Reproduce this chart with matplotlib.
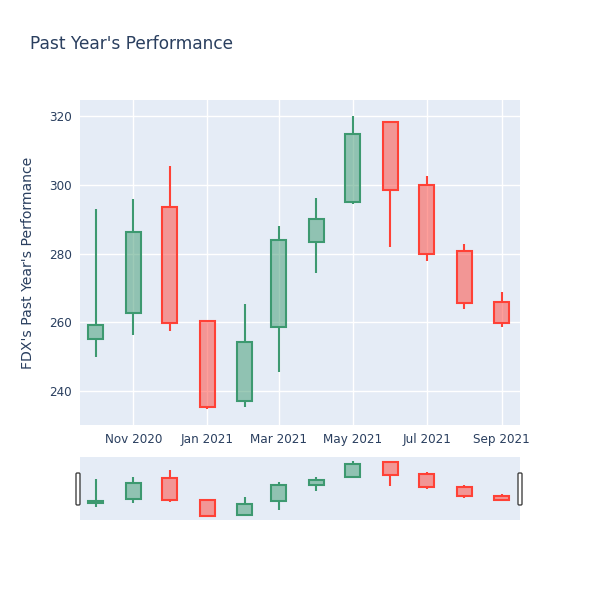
import matplotlib
matplotlib.use("Agg")
import matplotlib.pyplot as plt
import matplotlib.dates as mdates
from matplotlib.colors import to_rgba
from matplotlib.patches import FancyBboxPatch
import datetime as dt

# monthly OHLC values
dates = ["2020-10-01", "2020-11-01", "2020-12-01", "2021-01-01",
         "2021-02-01", "2021-03-01", "2021-04-01", "2021-05-01",
         "2021-06-01", "2021-07-01", "2021-08-01", "2021-09-01"]
opens = [255.1, 262.6, 293.6, 260.4, 237.2, 258.5, 283.4, 294.9,
         318.3, 299.9, 280.7, 266.0]
highs = [293.1, 295.9, 305.5, 260.5, 265.3, 288.0, 296.2, 320.0,
         318.4, 302.5, 282.8, 268.9]
lows = [250.0, 256.3, 257.5, 234.8, 235.3, 245.4, 274.2, 294.3,
        282.0, 277.7, 263.9, 258.7]
closes = [259.2, 286.3, 259.7, 235.4, 254.3, 283.9, 290.2, 314.8,
          298.4, 279.9, 265.7, 259.9]

tick_dates = ["2020-11-01", "2021-01-01", "2021-03-01", "2021-05-01",
              "2021-07-01", "2021-09-01"]
tick_labels = ["Nov 2020", "Jan 2021", "Mar 2021", "May 2021",
               "Jul 2021", "Sep 2021"]
y_ticks = [240, 260, 280, 300, 320]

up_color = "#3D9970"
down_color = "#FF4136"
bg = "#E5ECF6"
text_color = "#2a3f5f"

plt.rcParams['font.family'] = ['DejaVu Sans']

x = [mdates.date2num(dt.date.fromisoformat(d)) for d in dates]
x_range = (mdates.date2num(dt.date(2020, 9, 18)),
           mdates.date2num(dt.date(2021, 9, 16)))
y_range = (230.1, 324.7)


def draw_candles(ax, lw_box, lw_wick, width):
    for xi, o, h, l, c in zip(x, opens, highs, lows, closes):
        col = up_color if c >= o else down_color
        lo_body, hi_body = min(o, c), max(o, c)
        ax.vlines(xi, l, lo_body, color=col, linewidth=lw_wick, zorder=3)
        ax.vlines(xi, hi_body, h, color=col, linewidth=lw_wick, zorder=3)
        ax.bar(xi, hi_body - lo_body, bottom=lo_body, width=width,
               facecolor=to_rgba(col, 0.5), edgecolor=col,
               linewidth=lw_box, zorder=4)


fig = plt.figure(figsize=(6, 6), dpi=100)

# main chart
ax = fig.add_axes([80/600, 1-425/600, 440/600, 325/600])
ax.set_facecolor(bg)
draw_candles(ax, 1.5, 1.5, 12.5)
ax.set_xlim(x_range)
ax.set_ylim(y_range)
ax.set_xticks([mdates.date2num(dt.date.fromisoformat(d)) for d in tick_dates])
ax.set_xticklabels(tick_labels)
ax.set_yticks(y_ticks)
ax.grid(True, color="white", linewidth=1)
ax.set_axisbelow(True)
for s in ax.spines.values():
    s.set_visible(False)
ax.tick_params(length=0, labelsize=8.64, labelcolor=text_color, pad=6)

# range slider
ax2 = fig.add_axes([80/600, 1-520/600, 440/600, 63/600])
ax2.set_facecolor(bg)
draw_candles(ax2, 1.5, 1.5, 12.5)
ax2.set_xlim(x_range)
ax2.set_ylim(229.8, 326.0)
ax2.set_xticks([])
ax2.set_yticks([])
for s in ax2.spines.values():
    s.set_visible(False)

# slider handles
for hx in (78, 520):
    fig.patches.append(FancyBboxPatch(((hx-2)/600, 1-505/600), 4/600, 32/600,
                                      boxstyle="round,pad=0,rounding_size=0.002",
                                      transform=fig.transFigure,
                                      facecolor="white", edgecolor="#444444",
                                      linewidth=1))

fig.text(30/600, 1-44/600, "Past Year's Performance", fontsize=12.24,
         color=text_color, va="center", ha="left")
fig.text(28/600, 1-262.5/600, "FDX's Past Year's Performance", fontsize=10.08,
         color=text_color, rotation=90, va="center", ha="center")

fig.savefig("out.png", dpi=100, facecolor="white")
